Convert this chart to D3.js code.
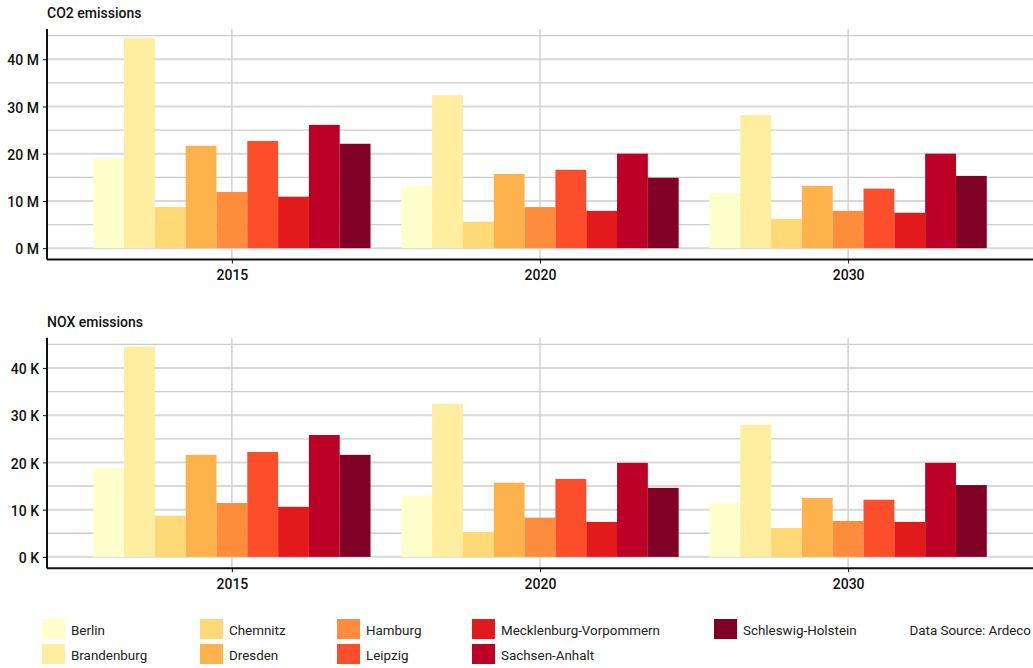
<!DOCTYPE html>
<html>
<head>
<meta charset="utf-8">
<script src="https://cdn.jsdelivr.net/npm/d3@7"></script>
<style>
  body { margin: 0; background: #fff; }
  svg { font-family: Roboto, "Noto Sans", sans-serif; }
</style>
</head>
<body>
<div id="chart"></div>
<script>
// data
var years = ["2015", "2020", "2030"];
var regions = ["Berlin", "Brandenburg", "Chemnitz", "Dresden", "Hamburg", "Leipzig",
    "Mecklenburg-Vorpommern", "Sachsen-Anhalt", "Schleswig-Holstein"];
var colors = ["#ffffcc", "#ffeda0", "#fed976", "#feb24c", "#fd8d3c", "#fc4e2a", "#e31a1c", "#bd0026", "#800026"];

// CO2 in millions, one row per year, same order as regions
var co2 = [
    [18.9, 44.5, 8.7, 21.7, 11.9, 22.7, 10.9, 26.1, 22.1],
    [13.2, 32.4, 5.6, 15.7, 8.7, 16.6, 7.9, 20.0, 14.9],
    [11.6, 28.2, 6.2, 13.2, 7.9, 12.6, 7.5, 20.0, 15.3]
];
// NOX in thousands
var nox = [
    [18.9, 44.5, 8.7, 21.6, 11.4, 22.2, 10.6, 25.8, 21.6],
    [13.0, 32.4, 5.3, 15.7, 8.3, 16.5, 7.4, 19.9, 14.6],
    [11.4, 28.0, 6.1, 12.5, 7.6, 12.1, 7.4, 19.9, 15.2]
];
var yTicks = [0, 10, 20, 30, 40];
var gridVals = [0, 5, 10, 15, 20, 25, 30, 35, 40, 45];

var W = 1033, H = 668;
var svg = d3.select("#chart").append("svg")
    .attr("width", W)
    .attr("height", H);

var left = 47, right = 1033;

var x = d3.scalePoint()
    .domain(years)
    .range([left, right])
    .padding(0.6);

var xInner = d3.scaleBand()
    .domain(regions)
    .range([-0.45 * x.step(), 0.45 * x.step()]);

var color = d3.scaleOrdinal().domain(regions).range(colors);

function drawPanel(title, values, suffix, top) {
    var bottom = top + 230.5;
    var y = d3.scaleLinear()
        .domain([-2.4, 46.4])
        .range([bottom, top]);

    var g = svg.append("g");

    g.append("text")
        .attr("x", left)
        .attr("y", top - 11)
        .attr("font-size", 14)
        .attr("font-weight", 500)
        .attr("fill", "#111")
        .text(title);

    // grid
    g.selectAll(".hgrid").data(gridVals).enter().append("line")
        .attr("x1", left).attr("x2", right)
        .attr("y1", function(d) { return y(d); })
        .attr("y2", function(d) { return y(d); })
        .attr("stroke", function(d) { return d % 10 == 0 ? "#d9d9d9" : "#cccccc"; })
        .attr("stroke-width", function(d) { return d % 10 == 0 ? 2 : 1.3; });

    g.selectAll(".vgrid").data(years).enter().append("line")
        .attr("x1", function(d) { return x(d); })
        .attr("x2", function(d) { return x(d); })
        .attr("y1", top).attr("y2", bottom)
        .attr("stroke", "#cccccc")
        .attr("stroke-width", 1.3);

    // bars
    var rows = [];
    years.forEach(function(yr, i) {
        regions.forEach(function(r, j) {
            rows.push({year: yr, region: r, value: values[i][j]});
        });
    });

    g.selectAll(".bar").data(rows).enter().append("rect")
        .attr("x", function(d) { return x(d.year) + xInner(d.region); })
        .attr("width", xInner.bandwidth())
        .attr("y", function(d) { return y(d.value); })
        .attr("height", function(d) { return y(0) - y(d.value); })
        .attr("fill", function(d) { return color(d.region); });

    // axes
    var yAxis = g.append("g")
        .attr("transform", "translate(" + left + ",0)")
        .call(d3.axisLeft(y).tickValues(yTicks).tickSize(4).tickPadding(4)
            .tickFormat(function(d) { return d + " " + suffix; }));
    yAxis.select(".domain").attr("stroke", "#111").attr("stroke-width", 2)
        .attr("d", "M0," + top + "V" + bottom);
    yAxis.selectAll(".tick line").attr("stroke", "#111");
    yAxis.selectAll("text").attr("font-size", 14).attr("font-weight", 500)
        .attr("fill", "#111").attr("font-family", "Roboto, sans-serif")
        .attr("dy", "0.4em");

    var xAxis = g.append("g")
        .attr("transform", "translate(0," + bottom + ")")
        .call(d3.axisBottom(x).tickSize(4).tickPadding(7));
    xAxis.select(".domain").attr("stroke", "#111").attr("stroke-width", 2)
        .attr("d", "M" + left + ",0H" + right);
    xAxis.selectAll(".tick line").attr("stroke", "#111");
    xAxis.selectAll("text").attr("font-size", 14).attr("font-weight", 500)
        .attr("fill", "#111").attr("font-family", "Roboto, sans-serif");
}

drawPanel("CO2 emissions", co2, "M", 29);
drawPanel("NOX emissions", nox, "K", 337.7);

// legend, two rows filled column by column
var legendCols = [42, 200, 337, 472, 714];
var legendRows = [619, 644];

var legend = svg.append("g");
var item = legend.selectAll(".item").data(regions).enter().append("g")
    .attr("transform", function(d, i) {
        return "translate(" + legendCols[Math.floor(i / 2)] + "," + legendRows[i % 2] + ")";
    });

item.append("rect")
    .attr("width", 23)
    .attr("height", 20)
    .attr("fill", function(d) { return color(d); });

item.append("text")
    .attr("x", 29)
    .attr("y", 15.5)
    .attr("font-size", 13.4)
    .attr("fill", "#222")
    .text(function(d) { return d; });

legend.append("text")
    .attr("x", 1031)
    .attr("y", legendRows[0] + 15.5)
    .attr("text-anchor", "end")
    .attr("font-size", 13.4)
    .attr("fill", "#222")
    .text("Data Source: Ardeco");
</script>
</body>
</html>
